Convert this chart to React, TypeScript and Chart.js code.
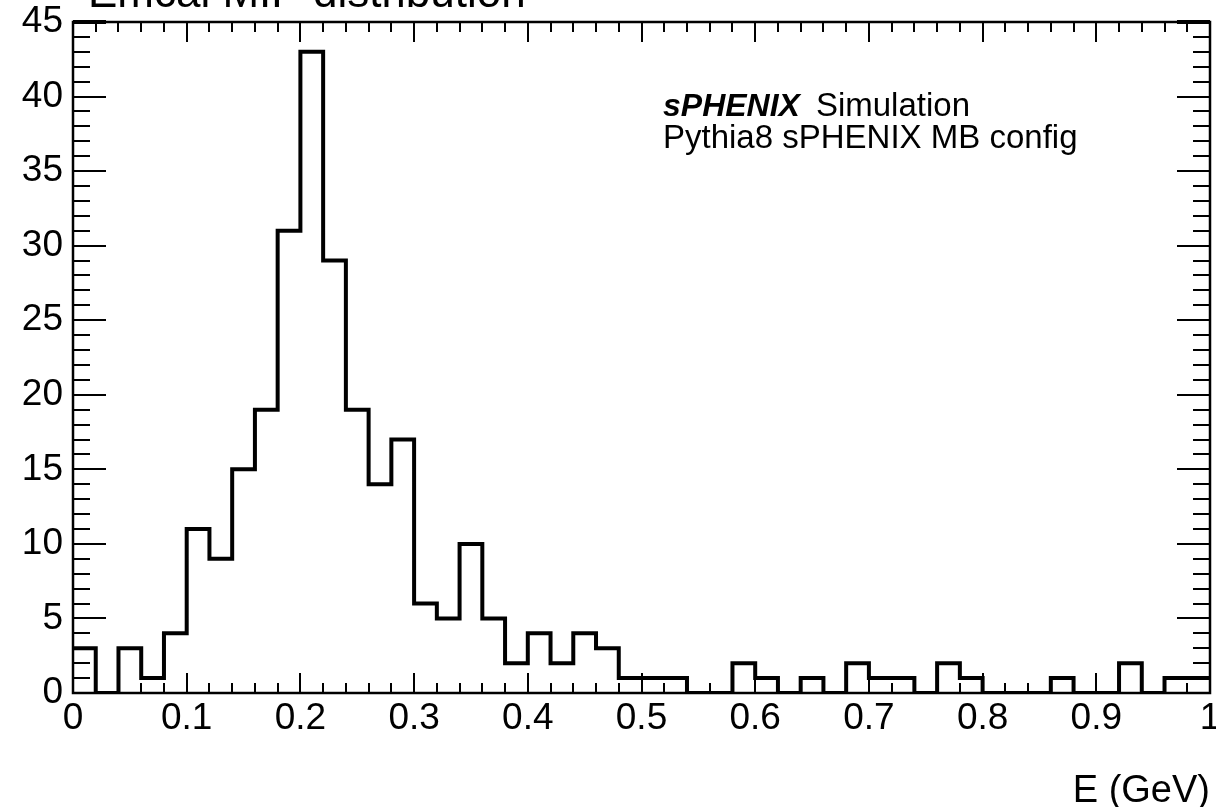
import React, { useEffect, useRef } from "react";
import { Chart, registerables } from "chart.js";

Chart.register(...registerables);

// ---- data ----
const binLow = 0;
const binWidth = 0.02;
const counts = [
  3, 0, 3, 1, 4, 11, 9, 15, 19, 31,
  43, 29, 19, 14, 17, 6, 5, 10, 5, 2,
  4, 2, 4, 3, 1, 1, 1, 0, 0, 2,
  1, 0, 1, 0, 2, 1, 1, 0, 2, 1,
  0, 0, 0, 1, 0, 0, 2, 0, 1, 1,
];
const xRange = [0, 1];
const yRange = [0, 45];
const xMajorStep = 0.1;
const xMinorPerMajor = 5;
const yMajorStep = 5;
const yMinorPerMajor = 5;
const titleText = "Emcal MIP distribution";
const xAxisTitle = "E (GeV)";
const labelBold = "sPHENIX";
const labelLine1 = "Simulation";
const labelLine2 = "Pythia8 sPHENIX MB config";

const FONT = '"Liberation Sans", Arial, Helvetica, sans-serif';

const rootFramePlugin = {
  id: "rootFrame",
  afterDatasetsDraw(chart: any) {
    const { ctx, chartArea, scales } = chart;
    const { left, right, top, bottom } = chartArea;
    const x = scales.x;
    const y = scales.y;
    ctx.save();
    ctx.strokeStyle = "#000";
    ctx.lineCap = "butt";
    // x ticks (bottom & top)
    ctx.lineWidth = 2;
    const xMinor = xMajorStep / xMinorPerMajor;
    const nx = Math.round((xRange[1] - xRange[0]) / xMinor);
    for (let i = 1; i < nx; i++) {
      const v = xRange[0] + i * xMinor;
      const px = Math.round(x.getPixelForValue(v));
      const len = i % xMinorPerMajor === 0 ? 20 : 10;
      ctx.beginPath();
      ctx.moveTo(px, bottom);
      ctx.lineTo(px, bottom - len);
      ctx.moveTo(px, top);
      ctx.lineTo(px, top + len);
      ctx.stroke();
    }
    // y ticks (left & right)
    const yMinor = yMajorStep / yMinorPerMajor;
    const ny = Math.round((yRange[1] - yRange[0]) / yMinor);
    for (let i = 1; i <= ny; i++) {
      const v = yRange[0] + i * yMinor;
      const py = Math.round(y.getPixelForValue(v));
      const major = i % yMinorPerMajor === 0;
      const len = major ? 33 : 17;
      ctx.lineWidth = major && i === ny ? 4 : 2;
      ctx.beginPath();
      ctx.moveTo(left, py);
      ctx.lineTo(left + len, py);
      ctx.moveTo(right, py);
      ctx.lineTo(right - len, py);
      ctx.stroke();
    }
    // frame
    ctx.lineWidth = 2.5;
    ctx.strokeRect(left, top, right - left, bottom - top);

    // texts
    ctx.fillStyle = "#000";
    ctx.textBaseline = "alphabetic";
    ctx.textAlign = "left";
    ctx.font = `44px ${FONT}`;
    ctx.fillText(titleText, 88, 7);

    ctx.font = `italic bold 32px ${FONT}`;
    ctx.fillText(labelBold, 663, 116);
    const w = ctx.measureText(labelBold).width;
    ctx.font = `33px ${FONT}`;
    ctx.fillText(labelLine1, 663 + w + 16, 116);
    ctx.fillText(labelLine2, 663, 148);
    ctx.restore();
  },
};

const fmt = (v: number) => String(Number(Number(v).toFixed(2)));

export default function App() {
  const ref = useRef<HTMLCanvasElement | null>(null);
  useEffect(() => {
    if (!ref.current) return;
    const pts = counts.map((c, i) => ({ x: binLow + i * binWidth, y: c }));
    pts.push({ x: binLow + counts.length * binWidth, y: counts[counts.length - 1] });
    const chart = new Chart(ref.current, {
      type: "line",
      data: {
        datasets: [
          {
            data: pts,
            stepped: "before",
            borderColor: "#000",
            borderWidth: 4,
            borderJoinStyle: "miter",
            borderCapStyle: "butt",
            pointRadius: 0,
            fill: false,
          },
        ],
      },
      options: {
        responsive: false,
        animation: false,
        devicePixelRatio: 1,
        layout: { padding: { left: 0, top: 22, right: 6, bottom: 0 } },
        plugins: { legend: { display: false }, tooltip: { enabled: false }, title: { display: false } },
        scales: {
          x: {
            type: "linear",
            min: xRange[0],
            max: xRange[1],
            grid: { display: false, drawTicks: false },
            border: { display: false },
            ticks: {
              stepSize: xMajorStep,
              color: "#000",
              padding: 7,
              maxRotation: 0,
              autoSkip: false,
              callback: (v: any) => fmt(v),
              font: { family: FONT, size: 37, lineHeight: 1 },
            },
            title: {
              display: true,
              text: xAxisTitle,
              align: "end",
              color: "#000",
              padding: { top: 0, bottom: 0 },
              font: { family: FONT, size: 38, lineHeight: 0.84 },
            },
            afterFit(scale: any) {
              scale.height = 114;
              scale.paddingLeft = 0;
              scale.paddingRight = 0;
            },
          },
          y: {
            type: "linear",
            min: yRange[0],
            max: yRange[1],
            grid: { display: false, drawTicks: false },
            border: { display: false },
            ticks: {
              stepSize: yMajorStep,
              color: "#000",
              padding: 10,
              callback: (v: any) => fmt(v),
              font: { family: FONT, size: 37, lineHeight: 1 },
            },
            afterFit(scale: any) {
              scale.width = 73;
              scale.paddingTop = 0;
              scale.paddingBottom = 0;
            },
          },
        },
      },
      plugins: [rootFramePlugin],
    } as any);
    return () => chart.destroy();
  }, []);
  return (
    <div style={{ position: "absolute", left: 0, top: 0, width: 1216, height: 807, background: "#fff" }}>
      <canvas ref={ref} width={1216} height={807} style={{ display: "block" }} />
    </div>
  );
}
